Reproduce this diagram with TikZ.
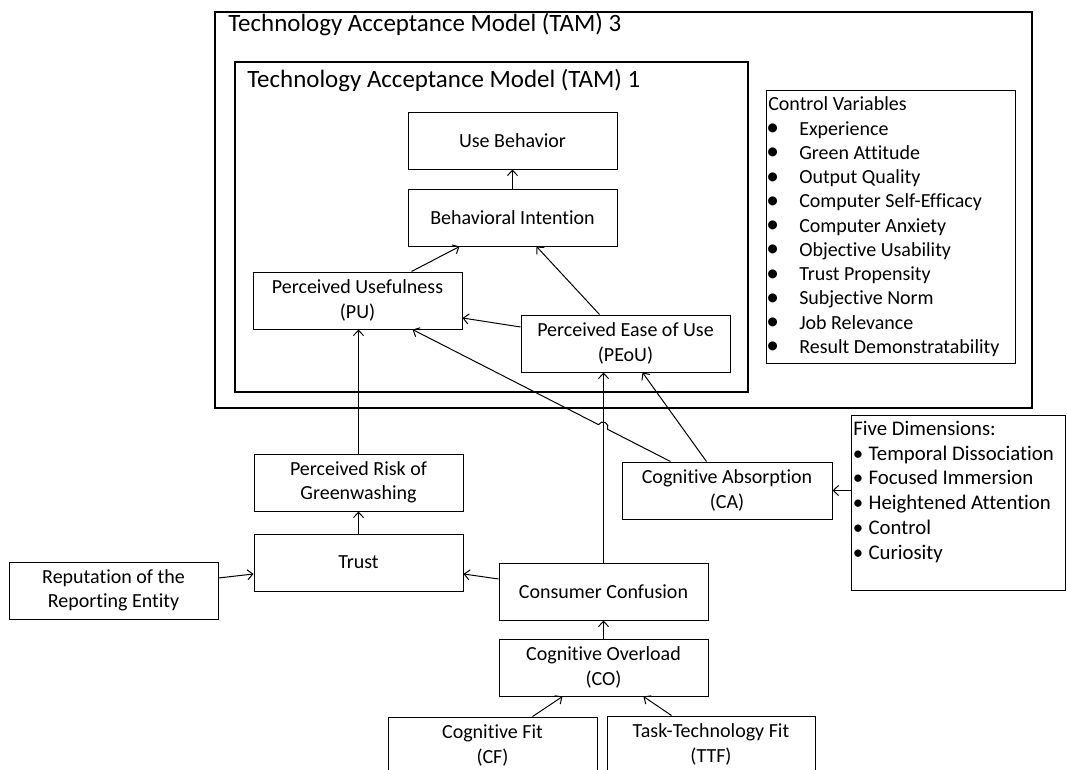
\documentclass[tikz,border=0pt]{standalone}
\usepackage{fontspec}
\setmainfont{Carlito}[Ligatures=NoCommon]
\usetikzlibrary{arrows.meta,calc}
\newcommand{\bigbul}{\raisebox{-0.4pt}{\fontsize{19}{19}\selectfont\textbullet}}
\begin{document}
\begin{tikzpicture}[x=0.75pt,y=-0.75pt,
  box/.style={draw, line width=0.75pt, rectangle, inner sep=0pt, align=center,
    minimum width=156.75pt, minimum height=42.75pt, font=\fontsize{15}{18.3}\selectfont},
  frame/.style={draw, line width=1.5pt, rectangle, inner sep=0pt},
  listbox/.style={draw, line width=0.75pt, rectangle, inner sep=0pt},
  title/.style={anchor=base west, inner sep=0pt, font=\fontsize{18.7}{22}\selectfont},
  item/.style={anchor=base west, inner sep=0pt, font=\fontsize{15}{18.3}\selectfont},
  fitem/.style={anchor=base west, inner sep=0pt, font=\fontsize{15.6}{19}\selectfont},
  conn/.style={draw, line width=0.75pt, -{Straight Barb[length=4pt,width=7.5pt]}}]
\useasboundingbox (0,0) rectangle (1067,769);

% containers
\node[frame, minimum width=612.75pt, minimum height=297pt] (tam3) at (623.5,210) {};
\node[frame, minimum width=385.1pt, minimum height=247.5pt] (tam1) at (491.25,227) {};
\node[title] (t3) at (228,31.5) {Technology Acceptance Model (TAM) 3};
\node[title] (t1) at (247,87) {Technology Acceptance Model (TAM) 1};

% boxes
\node[box] (UB) at (512.5,140.5) {Use Behavior};
\node[box] (BI) at (512.5,217.5) {Behavioral Intention};
\node[box] (PU) at (357.5,300.5) {Perceived Usefulness\\(PU)};
\node[box] (PEoU) at (625.5,343.5) {Perceived Ease of Use\\(PEoU)};
\node[box] (PR) at (358.5,482.5) {Perceived Risk of\\Greenwashing};
\node[box] (Trust) at (358.5,562.5) {Trust};
\node[box] (Rep) at (113.5,590.5) {Reputation of the\\Reporting Entity};
\node[box] (CC) at (603.5,591.5) {Consumer Confusion};
\node[box] (CO) at (603.5,667.5) {Cognitive Overload\\(CO)};
\node[box] (CF) at (492.5,745.5) {Cognitive Fit\\(CF)};
\node[box, minimum width=156pt] (TTF) at (711,744.5) {Task-Technology Fit\\(TTF)};
\node[box, minimum width=157.5pt] (CA) at (727,490.5) {Cognitive Absorption\\(CA)};

% control variables
\node[listbox, minimum width=186.75pt, minimum height=204.75pt] (CVbox) at (890.5,226.5) {};
\node[item] (cvh) at (768,110) {Control Variables};
\foreach \t [count=\i] in {Experience, Green Attitude, Output Quality, Computer Self-Efficacy,
  Computer Anxiety, Objective Usability, Trust Propensity, Subjective Norm, Job Relevance,
  Result Demonstratability}
  \node[item] (cv\i) at (768,{135+24.26*(\i-1)}) {\makebox[6.5pt][c]{\bigbul}\hspace{16.75pt}\t};

% five dimensions
\node[listbox, minimum width=160.5pt, minimum height=131.25pt] (Five) at (958,502.5) {};
\node[fitem] (fdh) at (853,435) {Five Dimensions:};
\foreach \t [count=\i] in {Temporal Dissociation, Focused Immersion, Heightened Attention,
  Control, Curiosity}
  \node[fitem] (fd\i) at (853,{460+24.75*(\i-1)}) {\makebox[7pt][c]{\textbullet}\hspace{4.5pt}\t};

% connectors
\draw[conn] (BI.north) -- (UB.south);
\draw[conn] ([xshift=-38.25pt]PU.north east) -- ([xshift=39pt]BI.south west);
\draw[conn] ([xshift=59.25pt]PEoU.north west) -- ([xshift=96.75pt]BI.south west);
\draw[conn] ([yshift=12.4pt]PEoU.west) -- ([yshift=-13.1pt]PU.east);
\draw[conn] (PR.north) -- (PR.north |- PU.south);
\draw[conn] (Trust.north) -- (PR.south);
\draw[conn] ([yshift=9.4pt]Rep.east) -- ([yshift=-8.6pt]Trust.west);
\draw[conn] ([yshift=9.4pt]CC.west) -- ([yshift=-8.6pt]Trust.east);
\draw[conn] (CC.north) -- (CC.north |- PEoU.south);
\draw[conn] (CO.north) -- (CC.south);
\draw[conn] ([xshift=108.75pt]CF.north west) -- ([xshift=48pt]CO.south west);
\draw[conn] ([xshift=48.75pt]TTF.north west) -- ([xshift=-48.75pt]CO.south east);
\draw[conn] ([xshift=63.75pt]CA.north west) -- ([xshift=91.5pt]PEoU.south west);
\coordinate (caS) at ([xshift=36.75pt]CA.north west);
\coordinate (puE) at ([xshift=120pt]PU.south west);
\draw[conn] (caS) -- ($(caS)!0.2444!(puE)$) arc[start angle=-27.3, end angle=152.7, radius=3.75pt] -- (puE);
\draw[conn] (CA.east -| Five.west) -- (CA.east);
\end{tikzpicture}
\end{document}
